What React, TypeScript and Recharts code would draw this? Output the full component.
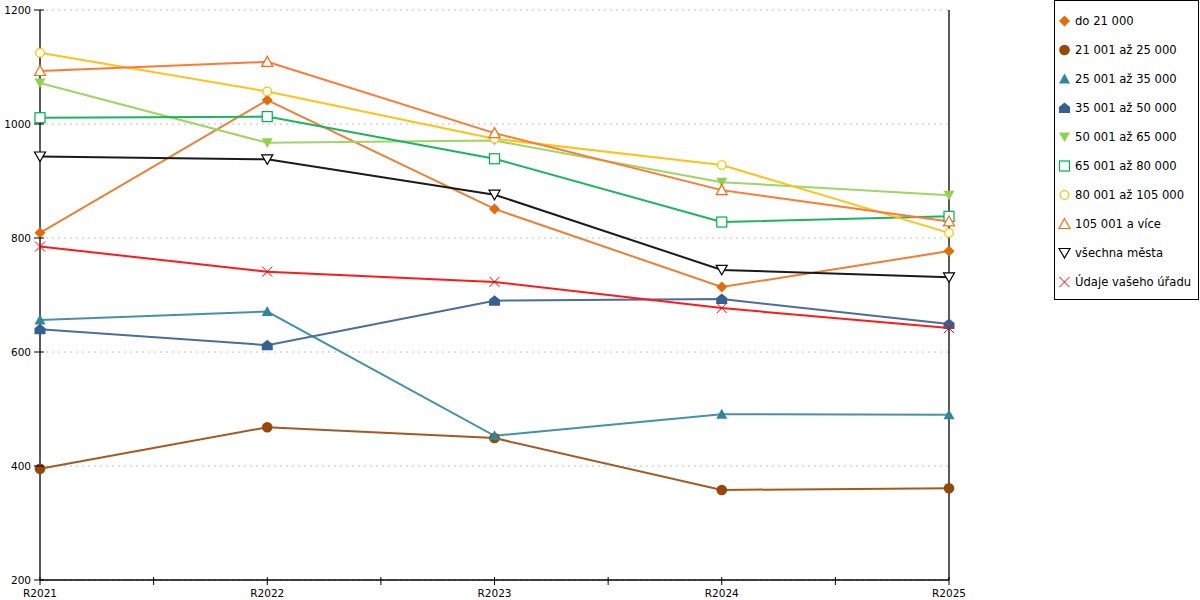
import React from "react";
import { LineChart, Line, XAxis, YAxis, CartesianGrid, ReferenceLine } from "recharts";

const categories = ["R2021", "R2022", "R2023", "R2024", "R2025"];
const yTicks = [200, 400, 600, 800, 1000, 1200];
const xTicks = [0, 0.5, 1, 1.5, 2, 2.5, 3, 3.5, 4];

const do21000 = [809, 1042, 851, 714, 777];
const s21to25 = [395, 468, 449, 358, 361];
const s25to35 = [656, 671, 453, 491, 490];
const s35to50 = [640, 612, 690, 693, 649];
const s50to65 = [1072, 967, 971, 898, 875];
const s65to80 = [1011, 1013, 939, 828, 838];
const s80to105 = [1125, 1057, 974, 928, 809];
const s105plus = [1093, 1109, 984, 884, 829];
const allCities = [943, 938, 876, 744, 731];
const office = [785, 741, 723, 677, 642];

type Shape = "diamond" | "circle" | "triUp" | "house" | "triDown" | "square" | "circleO" | "triUpO" | "triDownO" | "cross";

const seriesDefs: { key: string; name: string; values: number[]; line: string; marker: string; shape: Shape }[] = [
  { key: "a", name: "do 21 000", values: do21000, line: "#EB8035", marker: "#E26B0A", shape: "diamond" },
  { key: "b", name: "21 001 až 25 000", values: s21to25, line: "#A35A22", marker: "#974806", shape: "circle" },
  { key: "c", name: "25 001 až 35 000", values: s25to35, line: "#4393A6", marker: "#31859C", shape: "triUp" },
  { key: "d", name: "35 001 až 50 000", values: s35to50, line: "#4A6E9C", marker: "#366092", shape: "house" },
  { key: "e", name: "50 001 až 65 000", values: s50to65, line: "#9ED564", marker: "#92D050", shape: "triDown" },
  { key: "f", name: "65 001 až 80 000", values: s65to80, line: "#1DB45F", marker: "#00B050", shape: "square" },
  { key: "g", name: "80 001 až 105 000", values: s80to105, line: "#FFC21A", marker: "#FFC000", shape: "circleO" },
  { key: "h", name: "105 001 a více", values: s105plus, line: "#FF7A30", marker: "#FF6A13", shape: "triUpO" },
  { key: "i", name: "všechna města", values: allCities, line: "#1A1A1A", marker: "#000000", shape: "triDownO" },
  { key: "j", name: "Údaje vašeho úřadu", values: office, line: "#FF1A1A", marker: "#FF0000", shape: "cross" },
];

const data = categories.map((c, i) => {
  const row: Record<string, number | string> = { x: i, label: c };
  seriesDefs.forEach((s) => {
    row[s.key] = s.values[i];
  });
  return row;
});

function renderShape(shape: Shape, cx: number, cy: number, color: string, k?: string) {
  const r = 5.3;
  switch (shape) {
    case "diamond":
      return <polygon key={k} points={`${cx},${cy - 5.5} ${cx + 5.5},${cy} ${cx},${cy + 5.5} ${cx - 5.5},${cy}`} fill={color} />;
    case "circle":
      return <circle key={k} cx={cx} cy={cy} r={r} fill={color} />;
    case "triUp":
      return <polygon key={k} points={`${cx},${cy - 5.5} ${cx + 5.5},${cy + 4.5} ${cx - 5.5},${cy + 4.5}`} fill={color} />;
    case "house":
      return (
        <polygon
          key={k}
          points={`${cx},${cy - 5.5} ${cx + 5.5},${cy - 1} ${cx + 5.5},${cy + 5} ${cx - 5.5},${cy + 5} ${cx - 5.5},${cy - 1}`}
          fill={color}
        />
      );
    case "triDown":
      return <polygon key={k} points={`${cx - 5.5},${cy - 4.5} ${cx + 5.5},${cy - 4.5} ${cx},${cy + 5}`} fill={color} />;
    case "square":
      return <rect key={k} x={cx - 5} y={cy - 5} width={10} height={10} fill="#fff" stroke={color} strokeWidth={1.2} />;
    case "circleO":
      return <circle key={k} cx={cx} cy={cy} r={4.3} fill="#fff" stroke={color} strokeWidth={1.2} />;
    case "triUpO":
      return (
        <polygon key={k} points={`${cx},${cy - 5.5} ${cx + 5.5},${cy + 4.5} ${cx - 5.5},${cy + 4.5}`} fill="#fff" stroke={color} strokeWidth={1.2} />
      );
    case "triDownO":
      return (
        <polygon key={k} points={`${cx - 5.5},${cy - 4.5} ${cx + 5.5},${cy - 4.5} ${cx},${cy + 5}`} fill="#fff" stroke={color} strokeWidth={1.2} />
      );
    case "cross":
      return (
        <g key={k}>
          <line x1={cx - 5} y1={cy - 5} x2={cx + 5} y2={cy + 5} stroke={color} strokeWidth={1} />
          <line x1={cx - 5} y1={cy + 5} x2={cx + 5} y2={cy - 5} stroke={color} strokeWidth={1} />
        </g>
      );
  }
  return null;
}

const XTick = (props: any) => {
  const { x, y, payload } = props;
  const v = payload.value as number;
  return (
    <g>
      <line x1={x} x2={x} y1={y - 3} y2={y + 5} stroke="#000" strokeWidth={1} />
      {Number.isInteger(v) ? (
        <text x={x} y={y + 17} textAnchor="middle" fontFamily="DejaVu Sans" fontSize={10.5} fill="#000">
          {categories[v]}
        </text>
      ) : null}
    </g>
  );
};

const YTick = (props: any) => {
  const { x, y, payload } = props;
  return (
    <g>
      <line x1={x - 6} x2={x + 4} y1={y} y2={y} stroke="#000" strokeWidth={1} />
      <text x={x - 9} y={y + 4} textAnchor="end" fontFamily="DejaVu Sans" fontSize={10.5} fill="#000">
        {payload.value}
      </text>
    </g>
  );
};

const LegendBox = () => (
  <div
    style={{
      position: "absolute",
      left: 1054,
      top: 0,
      width: 145,
      height: 300,
      border: "1px solid #000",
      boxSizing: "border-box",
      background: "#fff",
      fontFamily: "DejaVu Sans",
      fontSize: 11.6,
      color: "#000",
    }}
  >
    {seriesDefs.map((s, i) => (
      <div
        key={s.key}
        style={{ position: "absolute", left: 0, top: 20 + i * 29 - 8, height: 16, display: "flex", alignItems: "center", whiteSpace: "nowrap" }}
      >
        <svg width={20} height={16} style={{ display: "block" }}>
          {renderShape(s.shape, 9.5, 8, s.marker)}
        </svg>
        <span>{s.name}</span>
      </div>
    ))}
  </div>
);

export default function App() {
  return (
    <div style={{ position: "absolute", left: 0, top: 0, width: 1200, height: 600, background: "#fff" }}>
      <LineChart width={1200} height={600} data={data} margin={{ top: 10, right: 251, left: 0, bottom: 0 }}>
        <CartesianGrid vertical={false} stroke="#c0c0c0" strokeDasharray="2 4" />
        <XAxis
          dataKey="x"
          type="number"
          domain={[0, 4]}
          ticks={xTicks}
          interval={0}
          height={20}
          tickSize={0}
          tickMargin={0}
          axisLine={{ stroke: "#000", strokeWidth: 1.3 }}
          tickLine={false}
          tick={<XTick />}
        />
        <YAxis
          type="number"
          domain={[200, 1200]}
          ticks={yTicks}
          interval={0}
          width={40}
          tickSize={0}
          tickMargin={0}
          axisLine={{ stroke: "#000", strokeWidth: 1.3 }}
          tickLine={false}
          tick={<YTick />}
        />
        <ReferenceLine x={4} stroke="#000" strokeWidth={1.3} ifOverflow="visible" />
        {seriesDefs.map((s) => (
          <Line
            key={s.key}
            dataKey={s.key}
            name={s.name}
            stroke={s.line}
            strokeWidth={2}
            isAnimationActive={false}
            legendType="none"
            dot={(p: any) => renderShape(s.shape, p.cx, p.cy, s.marker, `${s.key}-${p.index}`)}
            activeDot={false}
          />
        ))}
      </LineChart>
      <LegendBox />
    </div>
  );
}
